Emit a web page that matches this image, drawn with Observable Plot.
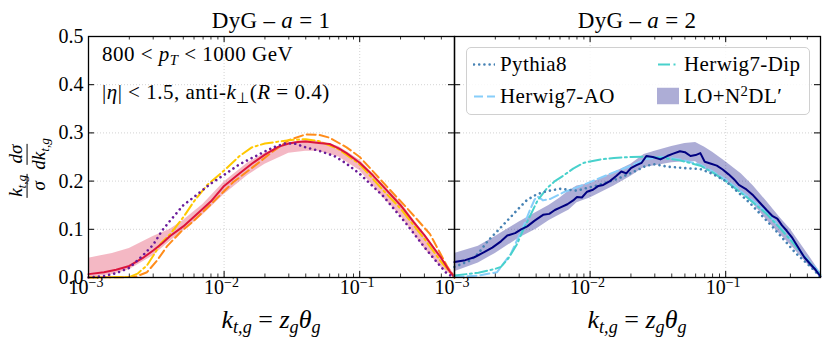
<!DOCTYPE html>
<html><head><meta charset="utf-8">
<script src="https://cdn.jsdelivr.net/npm/d3@7"></script>
<script src="https://cdn.jsdelivr.net/npm/@observablehq/plot@0.6"></script>
<style>
body{margin:0;background:#fff;}
#wrap{position:relative;width:831px;height:345px;font-family:"Liberation Serif",serif;color:#000;overflow:hidden;}
#wrap > svg{position:absolute;left:0;top:0;}
.abs{position:absolute;white-space:nowrap;line-height:1;}
.c{transform:translate(-50%,-50%);}
.l{transform:translate(0,-50%);}
sub{font-size:0.7em;vertical-align:-0.3em;line-height:0;}
sup{font-size:0.7em;vertical-align:0.45em;line-height:0;}
.legend{position:absolute;left:466px;top:47px;width:344px;height:68px;border:1px solid #d0d0d0;border-radius:5px;background:rgba(255,255,255,0.85);box-sizing:border-box;}
.li{position:absolute;display:flex;align-items:center;font-size:21px;letter-spacing:0.4px;line-height:1;transform:translateY(-50%);white-space:nowrap;}
#wrap .li svg{position:static;margin-right:5px;flex:none;}
.frac{display:inline-flex;flex-direction:column;align-items:center;vertical-align:middle;margin:0 2px;}
.num{border-bottom:1px solid #000;padding:0 1px 1px 1px;line-height:1.05;}
.den{line-height:1.05;padding-top:1px;}
</style></head><body><div id="wrap"></div>
<script>
// ---------- data ----------
const panels = ["1", "2"];
const titles = ["DyG – <i>a</i> = 1", "DyG – <i>a</i> = 2"];

// axis ticks
const xMajor = [1e-3, 1e-2, 1e-1];
const xMajorExp = ["−3", "−2", "−1"];
const xMinorMult = [2, 3, 4, 5, 6, 7, 8, 9];
const yTicks = [0, 0.1, 0.2, 0.3, 0.4, 0.5];
const yTickLabels = ["0.0", "0.1", "0.2", "0.3", "0.4", "0.5"];
const xGrid = [1e-2, 1e-1];
const yGrid = [0.1, 0.2, 0.3, 0.4];

// a = 1 panel
const a1Res_x = [1e-3,1.3e-3,1.6e-3,2e-3,2.5e-3,3e-3,3.5e-3,4e-3,5e-3,6e-3,7e-3,8e-3,1e-2,1.25e-2,1.6e-2,2e-2,2.5e-2,3e-2,3.5e-2,4e-2,5e-2,6e-2,7e-2,8e-2,1e-1,1.25e-1,1.5e-1,2e-1,2.5e-1,3e-1,3.5e-1,4e-1,4.5e-1,5e-1];
const a1Res_y = [0.007,0.011,0.016,0.024,0.040,0.056,0.071,0.086,0.106,0.126,0.143,0.158,0.19,0.212,0.236,0.255,0.271,0.278,0.281,0.282,0.279,0.277,0.268,0.258,0.238,0.212,0.188,0.15,0.115,0.088,0.062,0.04,0.017,0.0];
const a1Band_x = [1e-3,1.5e-3,2e-3,3e-3,4e-3,5e-3,7e-3,1e-2,1.5e-2,2e-2,3e-2,4e-2,5e-2,7e-2,1e-1,1.5e-1,2e-1,3e-1,4e-1,5e-1];
const a1Band_lo = [0.0,0.006,0.016,0.045,0.075,0.096,0.13,0.172,0.212,0.235,0.258,0.262,0.262,0.25,0.222,0.165,0.128,0.06,0.02,0.0];
const a1Band_hi = [0.04,0.05,0.06,0.085,0.1,0.118,0.152,0.198,0.238,0.258,0.28,0.285,0.283,0.272,0.244,0.192,0.156,0.09,0.042,0.006];
const a1Py_x = [1e-3,1.3e-3,1.6e-3,2e-3,2.5e-3,3e-3,3.5e-3,4e-3,5e-3,6e-3,8e-3,1e-2,1.3e-2,1.8e-2,2.3e-2,2.8e-2,3.3e-2,4e-2,5e-2,6.5e-2,8e-2,1e-1,1.5e-1,2.2e-1,3e-1,3.5e-1,4.4e-1,5e-1];
const a1Py_y = [0.0,0.003,0.009,0.02,0.045,0.068,0.098,0.118,0.15,0.167,0.195,0.213,0.235,0.255,0.27,0.278,0.278,0.27,0.263,0.252,0.236,0.215,0.168,0.112,0.063,0.04,0.008,0.0];
const a1Dip_x = [1e-3,2e-3,2.3e-3,2.7e-3,3e-3,3.4e-3,4e-3,5e-3,6e-3,7.5e-3,1e-2,1.3e-2,1.6e-2,2e-2,3e-2,4e-2,5e-2,7e-2,1e-1,1.5e-1,2e-1,3e-1,4e-1,5e-1];
const a1Dip_y = [0.0,0.001,0.008,0.025,0.045,0.07,0.09,0.125,0.158,0.192,0.222,0.252,0.27,0.278,0.285,0.287,0.283,0.266,0.235,0.18,0.143,0.08,0.032,0.0];
const a1AO_x = [1e-3,2.2e-3,2.7e-3,3.2e-3,3.8e-3,4.8e-3,6e-3,8.4e-3,1.17e-2,1.65e-2,2.3e-2,3e-2,4e-2,5e-2,6e-2,8e-2,1e-1,1.2e-1,1.5e-1,2.2e-1,3.3e-1,4.4e-1,5e-1];
const a1AO_y = [0.0,0.001,0.011,0.035,0.065,0.095,0.118,0.158,0.198,0.23,0.262,0.285,0.297,0.296,0.29,0.27,0.25,0.226,0.196,0.146,0.09,0.024,0.0];

// a = 2 panel
const a2Res_x = [1e-3,1.2e-3,1.4e-3,1.64e-3,1.9e-3,2.2e-3,2.45e-3,2.8e-3,3.1e-3,3.44e-3,3.9e-3,4.5e-3,5e-3,5.5e-3,6e-3,6.8e-3,7.5e-3,8e-3,8.7e-3,9.5e-3,1.05e-2,1.15e-2,1.25e-2,1.4e-2,1.55e-2,1.7e-2,1.85e-2,2e-2,2.2e-2,2.4e-2,2.6e-2,2.9e-2,3.3e-2,3.7e-2,4.1e-2,4.6e-2,5e-2,5.5e-2,6e-2,6.5e-2,7e-2,7.8e-2,8.6e-2,9.5e-2,1.05e-1,1.15e-1,1.25e-1,1.4e-1,1.6e-1,1.8e-1,2e-1,2.2e-1,2.4e-1,2.6e-1,2.8e-1,3.1e-1,3.5e-1,3.8e-1,4.2e-1,4.6e-1,5e-1];
const a2Res_y = [0.032,0.036,0.042,0.052,0.062,0.075,0.087,0.092,0.1,0.106,0.118,0.13,0.132,0.14,0.145,0.152,0.16,0.167,0.166,0.178,0.182,0.19,0.192,0.2,0.21,0.22,0.216,0.227,0.233,0.238,0.252,0.25,0.245,0.252,0.257,0.262,0.26,0.252,0.254,0.258,0.24,0.236,0.232,0.224,0.214,0.204,0.192,0.184,0.17,0.154,0.14,0.128,0.122,0.108,0.098,0.082,0.058,0.042,0.028,0.016,0.002];
const a2Band_x = [1e-3,1.5e-3,2e-3,3e-3,4e-3,5e-3,6e-3,7e-3,8e-3,1e-2,1.5e-2,2e-2,2.5e-2,3e-2,4e-2,5e-2,6e-2,7e-2,8e-2,1e-1,1.3e-1,1.6e-1,2e-1,2.5e-1,3e-1,4e-1,5e-1];
const a2Band_lo = [0.012,0.03,0.05,0.082,0.1,0.118,0.13,0.14,0.155,0.165,0.19,0.21,0.228,0.232,0.238,0.24,0.24,0.225,0.215,0.2,0.175,0.152,0.12,0.09,0.068,0.028,0.0];
const a2Band_hi = [0.05,0.065,0.085,0.115,0.135,0.15,0.165,0.18,0.19,0.195,0.218,0.235,0.255,0.262,0.272,0.278,0.28,0.27,0.26,0.24,0.215,0.19,0.158,0.125,0.1,0.05,0.01];
const a2Py_x = [1e-3,1.3e-3,1.5e-3,1.75e-3,2.1e-3,2.45e-3,2.9e-3,3.4e-3,4e-3,4.5e-3,5.2e-3,6e-3,7e-3,8e-3,9.5e-3,1.13e-2,1.35e-2,1.6e-2,1.9e-2,2.2e-2,2.6e-2,3e-2,3.7e-2,5e-2,6.5e-2,8e-2,1e-1,1.5e-1,2.2e-1,3.3e-1,4.5e-1,5e-1];
const a2Py_y = [0.022,0.035,0.05,0.075,0.098,0.118,0.14,0.16,0.172,0.177,0.181,0.184,0.182,0.18,0.186,0.191,0.198,0.205,0.214,0.222,0.232,0.235,0.23,0.227,0.225,0.215,0.2,0.155,0.106,0.05,0.015,0.0];
const a2Dip_x = [1e-3,1.5e-3,2e-3,2.2e-3,2.5e-3,2.9e-3,3.2e-3,3.5e-3,4.1e-3,4.8e-3,5.5e-3,6.4e-3,7.5e-3,9e-3,1.2e-2,1.5e-2,2e-2,2.6e-2,3.5e-2,4.6e-2,6.5e-2,8e-2,1e-1,1.5e-1,2e-1,2.5e-1,3e-1,4e-1,5e-1];
const a2Dip_y = [0.004,0.01,0.018,0.022,0.04,0.07,0.098,0.12,0.16,0.185,0.2,0.212,0.226,0.238,0.245,0.248,0.25,0.251,0.248,0.243,0.232,0.218,0.2,0.162,0.132,0.103,0.078,0.036,0.005];
const a2AO_x = [1e-3,1.5e-3,2.06e-3,2.6e-3,3.2e-3,3.6e-3,3.9e-3,4.1e-3,4.5e-3,5.1e-3,6.4e-3,8e-3,1e-2,1.4e-2,2e-2,2.6e-2,3.5e-2,4.6e-2,6.5e-2,8e-2,1e-1,1.5e-1,2e-1,3e-1,4e-1,5e-1];
const a2AO_y = [0.001,0.004,0.011,0.049,0.104,0.14,0.162,0.168,0.16,0.163,0.177,0.187,0.198,0.215,0.232,0.246,0.25,0.245,0.234,0.22,0.203,0.165,0.135,0.08,0.038,0.008];

// ---------- build rows ----------
const line = (panel, xs, ys) => xs.map((x, i) => ({panel, x, y: ys[i]}));
const band = (panel, xs, lo, hi) => xs.map((x, i) => ({panel, x, lo: lo[i], hi: hi[i]}));
const xMinor = xMajor.flatMap(d => xMinorMult.map(m => m * d)).filter(v => v < 0.5);
const xTickRows = xMajor.map((v, i) => ({v, exp: xMajorExp[i]}));
const yTickRows = yTicks.map((v, i) => ({v, label: yTickLabels[i], panel: "1"}));

const H = 241, W = 366;
const dot = {strokeDasharray: "0.01,5.2", strokeLinecap: "round", strokeWidth: 2.6};
const dash = {strokeDasharray: "9,4", strokeWidth: 2};
const dashdot = {strokeDasharray: "12,3.5,2,3.5", strokeWidth: 2};

const chart = Plot.plot({
  width: 831, height: 345,
  marginTop: 36, marginBottom: 68, marginLeft: 88, marginRight: 11,
  style: {fontFamily: '"Liberation Serif", serif', background: "transparent", overflow: "visible"},
  x: {type: "log", domain: [1e-3, 0.5], axis: null},
  y: {domain: [0, 0.5], axis: null},
  fx: {domain: panels, padding: 0, axis: null},
  marks: [
    Plot.ruleY(yGrid, {y: d => d, stroke: "#c8c8c8", strokeWidth: 0.8, strokeDasharray: "1,2"}),
    Plot.ruleX(xGrid, {x: d => d, stroke: "#c8c8c8", strokeWidth: 0.8, strokeDasharray: "1,2"}),
    Plot.areaY(band("1", a1Band_x, a1Band_lo, a1Band_hi), {x: "x", y1: "lo", y2: "hi", fx: "panel", fill: "crimson", fillOpacity: 0.3}),
    Plot.areaY(band("2", a2Band_x, a2Band_lo, a2Band_hi), {x: "x", y1: "lo", y2: "hi", fx: "panel", fill: "navy", fillOpacity: 0.32}),
    Plot.line(line("1", a1AO_x, a1AO_y), {x: "x", y: "y", fx: "panel", stroke: "#ff8c1a", ...dash}),
    Plot.line(line("1", a1Dip_x, a1Dip_y), {x: "x", y: "y", fx: "panel", stroke: "#ffc800", ...dashdot}),
    Plot.line(line("1", a1Res_x, a1Res_y), {x: "x", y: "y", fx: "panel", stroke: "#dc143c", strokeWidth: 2}),
    Plot.line(line("1", a1Py_x, a1Py_y), {x: "x", y: "y", fx: "panel", stroke: "#6a1b9a", ...dot}),
    Plot.line(line("2", a2AO_x, a2AO_y), {x: "x", y: "y", fx: "panel", stroke: "#87cefa", ...dash}),
    Plot.line(line("2", a2Dip_x, a2Dip_y), {x: "x", y: "y", fx: "panel", stroke: "#48d1cc", ...dashdot}),
    Plot.line(line("2", a2Py_x, a2Py_y), {x: "x", y: "y", fx: "panel", stroke: "#4682b4", ...dot}),
    Plot.line(line("2", a2Res_x, a2Res_y), {x: "x", y: "y", fx: "panel", stroke: "#000080", strokeWidth: 2}),
    // ticks (inward, all four sides)
    Plot.tickX(xMajor, {x: d => d, insetTop: H - 6, stroke: "black"}),
    Plot.tickX(xMajor, {x: d => d, insetBottom: H - 6, stroke: "black"}),
    Plot.tickX(xMinor, {x: d => d, insetTop: H - 3.5, stroke: "black", strokeWidth: 0.8}),
    Plot.tickX(xMinor, {x: d => d, insetBottom: H - 3.5, stroke: "black", strokeWidth: 0.8}),
    Plot.tickY(yTicks, {y: d => d, insetRight: W - 6, stroke: "black"}),
    Plot.tickY(yTicks, {y: d => d, insetLeft: W - 6, stroke: "black"}),
    Plot.frame({stroke: "black", strokeWidth: 1.3}),
    // tick labels
    Plot.text(xTickRows, {x: "v", text: () => "10", frameAnchor: "bottom", textAnchor: "end", dy: 16, fontSize: 20}),
    Plot.text(xTickRows, {x: "v", text: "exp", frameAnchor: "bottom", textAnchor: "start", dy: 9, fontSize: 14}),
    Plot.text(yTickRows, {y: "v", text: "label", fx: "panel", frameAnchor: "left", textAnchor: "end", dx: -5, fontSize: 20})
  ]
});

const wrap = document.getElementById("wrap");
wrap.appendChild(chart);

const centers = [271, 637];
let html = "";
titles.forEach((t, i) => {
  html += `<div class="abs c" style="left:${centers[i]}px;top:20px;font-size:23px;letter-spacing:0.3px">${t}</div>`;
  html += `<div class="abs c" style="left:${centers[i]}px;top:320px;font-size:26px"><i>k</i><sub><i>t,g</i></sub> = <i>z</i><sub><i>g</i></sub><i>θ</i><sub><i>g</i></sub></div>`;
});
html += `<div class="abs l" style="left:102px;top:54px;font-size:21px;letter-spacing:0.5px">800 &lt; <i>p</i><sub><i>T</i></sub> &lt; 1000 GeV</div>`;
html += `<div class="abs l" style="left:102px;top:92px;font-size:21px;letter-spacing:0.5px">|<i>η</i>| &lt; 1.5, anti-<i>k</i><sub>⊥</sub>(<i>R</i> = 0.4)</div>`;
html += `<div class="abs c" style="left:27px;top:168px;font-size:19px;transform:translate(-50%,-50%) rotate(-90deg)">
  <span class="frac"><span class="num"><i>k</i><sub><i>t,g</i></sub></span><span class="den"><i>σ</i></span></span><span class="frac"><span class="num"><i>dσ</i></span><span class="den"><i>dk</i><sub><i>t,g</i></sub></span></span></div>`;
const sw = (stroke, extra) => `<svg width="22" height="12"><line x1="1" y1="6" x2="22" y2="6" stroke="${stroke}" ${extra}/></svg>`;
html += `<div class="legend">
  <div class="li" style="left:6px;top:16px">${sw("#4682b4", 'stroke-width="2.6" stroke-linecap="round" stroke-dasharray="0.01,5.2"')}<span>Pythia8</span></div>
  <div class="li" style="left:190px;top:16px">${sw("#48d1cc", 'stroke-width="2" stroke-dasharray="12,3.5,2,3.5"')}<span>Herwig7-Dip</span></div>
  <div class="li" style="left:6px;top:48px">${sw("#87cefa", 'stroke-width="2" stroke-dasharray="9,4"')}<span>Herwig7-AO</span></div>
  <div class="li" style="left:190px;top:48px"><svg width="22" height="17"><rect x="0" y="0" width="22" height="17" fill="navy" fill-opacity="0.32"/></svg><span>LO+N<sup>2</sup>DL′</span></div>
</div>`;
wrap.insertAdjacentHTML("beforeend", html);
</script></body></html>
